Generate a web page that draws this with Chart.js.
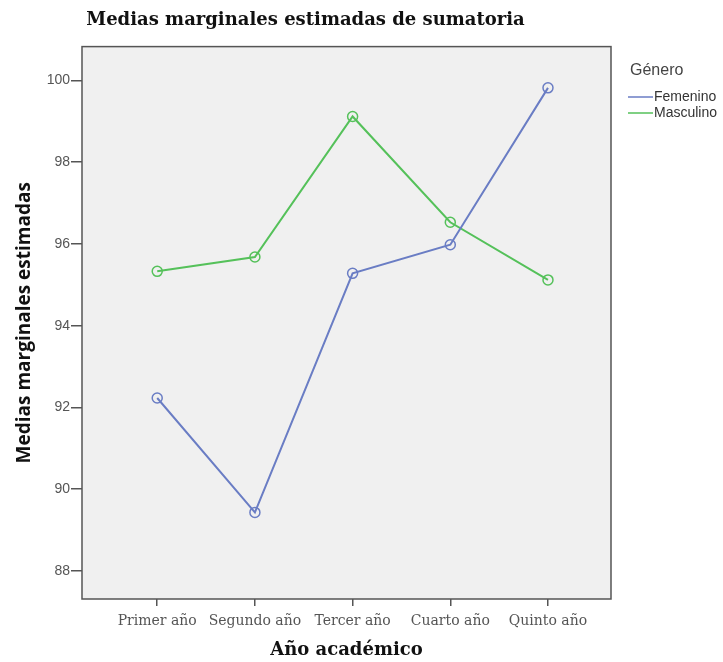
<!DOCTYPE html>
<html lang="es">
<head>
  <meta charset="UTF-8">
  <title>Medias marginales estimadas de sumatoria</title>
  <script src="https://cdn.jsdelivr.net/npm/chart.js"></script>
  <style>
    html, body { margin: 0; padding: 0; background: #fff; }
    #wrap { width: 723px; height: 662px; }
  </style>
</head>
<body>
  <div id="wrap"><canvas id="medias"></canvas></div>

  <script>
    // Datos
    const cursos = ['Primer año', 'Segundo año', 'Tercer año', 'Cuarto año', 'Quinto año'];
    const femenino = [92.23, 89.43, 95.28, 95.98, 99.82];
    const masculino = [95.33, 95.68, 99.12, 96.53, 95.12];
    const yTicks = [88, 90, 92, 94, 96, 98, 100];

    const azul = '#6a7dc4';
    const verde = '#55c15a';

    // fondo gris y marco del area de trazado
    const marco = {
      id: 'marco',
      beforeDraw(chart) {
        const { ctx, chartArea: a } = chart;
        ctx.save();
        ctx.fillStyle = '#f0f0f0';
        ctx.fillRect(a.left, a.top, a.right - a.left, a.bottom - a.top);
        ctx.restore();
      },
      afterDraw(chart) {
        const { ctx, chartArea: a } = chart;
        ctx.save();
        ctx.strokeStyle = '#555';
        ctx.lineWidth = 1.5;
        ctx.strokeRect(a.left, a.top, a.right - a.left, a.bottom - a.top);
        ctx.restore();
      }
    };

    // leyenda estilo SPSS a la derecha
    const leyenda = {
      id: 'leyenda',
      afterDraw(chart) {
        const { ctx, chartArea: a } = chart;
        const x = a.right + 17;
        ctx.save();
        ctx.fillStyle = '#444';
        ctx.textBaseline = 'middle';
        ctx.font = '16px "Liberation Sans Narrow", "Liberation Sans", Arial, sans-serif';
        ctx.fillText('Género', x + 2, 71);
        ctx.font = '14px "Liberation Sans Narrow", "Liberation Sans", Arial, sans-serif';
        chart.data.datasets.forEach((ds, i) => {
          const y = 97 + i * 16;
          ctx.strokeStyle = ds.borderColor;
          ctx.lineWidth = 1.5;
          ctx.beginPath();
          ctx.moveTo(x, y);
          ctx.lineTo(x + 25, y);
          ctx.stroke();
          ctx.fillStyle = '#333';
          ctx.fillText(ds.label, x + 26, y);
        });
        ctx.restore();
      }
    };

    const serie = (label, data, color) => ({
      label,
      data: data.map((v, i) => ({ x: i + 1, y: v })),
      borderColor: color,
      backgroundColor: 'rgba(240,240,240,0)',
      borderWidth: 2,
      pointRadius: 5,
      pointBorderWidth: 1.5,
      pointBackgroundColor: 'rgba(0,0,0,0)',
      pointBorderColor: color,
      tension: 0
    });

    new Chart(document.getElementById('medias'), {
      type: 'line',
      data: {
        datasets: [
          serie('Femenino', femenino, azul),
          serie('Masculino', masculino, verde)
        ]
      },
      plugins: [marco, leyenda],
      options: {
        responsive: true,
        maintainAspectRatio: false,
        animation: false,
        layout: { padding: { left: 0, right: 112, top: 0, bottom: 0 } },
        plugins: {
          legend: { display: false },
          tooltip: { enabled: false },
          title: {
            display: true,
            text: 'Medias marginales estimadas de sumatoria',
            color: '#111',
            font: { family: '"DejaVu Serif", serif', size: 18, weight: 'bold' },
            padding: { top: 10, bottom: 15 }
          }
        },
        scales: {
          x: {
            type: 'linear',
            min: 0.23,
            max: 5.645,
            afterBuildTicks(scale) {
              scale.ticks = cursos.map((c, i) => ({ value: i + 1 }));
            },
            afterFit(scale) { scale.height = 63; },
            ticks: {
              color: '#555',
              font: { family: '"DejaVu Serif", serif', size: 14 },
              padding: 7,
              maxRotation: 0,
              autoSkip: false,
              callback: (v) => cursos[v - 1]
            },
            grid: {
              drawOnChartArea: false,
              drawTicks: true,
              tickLength: 7,
              color: '#555',
              lineWidth: 1.5
            },
            border: { display: false },
            title: {
              display: true,
              text: 'Año académico',
              color: '#111',
              font: { family: '"DejaVu Serif", serif', size: 18, weight: 'bold' },
              padding: { top: 0, bottom: 1 }
            }
          },
          y: {
            min: 87.31,
            max: 100.83,
            afterBuildTicks(scale) {
              scale.ticks = yTicks.map(v => ({ value: v }));
            },
            afterFit(scale) { scale.width = 82; },
            ticks: {
              color: '#555',
              font: { family: '"Liberation Sans", Arial, sans-serif', size: 14 },
              padding: 1
            },
            grid: {
              drawOnChartArea: false,
              drawTicks: true,
              tickLength: 11,
              color: '#555',
              lineWidth: 1.5
            },
            border: { display: false },
            title: {
              display: true,
              text: 'Medias marginales estimadas',
              color: '#111',
              font: { family: '"Open Sans", sans-serif', size: 19, weight: 'bold' },
              padding: { top: 13 }
            }
          }
        }
      }
    });
  </script>
</body>
</html>
